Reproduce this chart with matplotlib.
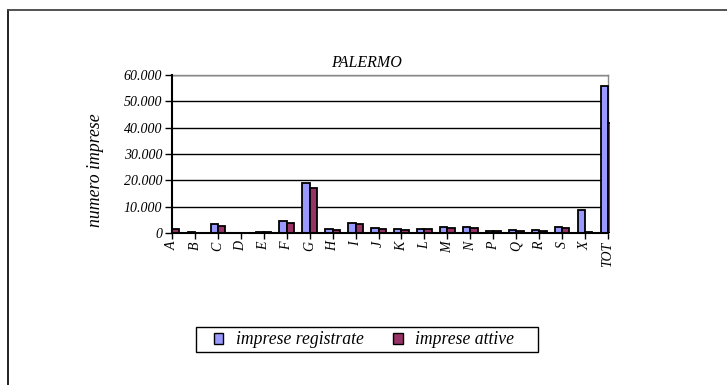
import matplotlib
matplotlib.use("Agg")
import matplotlib.pyplot as plt
from matplotlib.patches import Patch, Rectangle
from matplotlib.lines import Line2D
from matplotlib.transforms import Bbox, TransformedBbox
import numpy as np

categories = ["A", "B", "C", "D", "E", "F", "G", "H", "I", "J", "K", "L", "M",
              "N", "P", "Q", "R", "S", "X", "TOT"]
registrate = [1600, 200, 3300, 150, 250, 4550, 18860, 1500, 3800, 1770, 1400,
              1500, 2400, 2150, 630, 1000, 1000, 2150, 8730, 56000]
attive = [1500, 150, 2800, 100, 200, 3800, 16960, 1270, 3400, 1650, 1150,
          1400, 2000, 1800, 600, 900, 900, 1900, 250, 41900]
yticks = [0, 10000, 20000, 30000, 40000, 50000, 60000]
ytick_labels = ["0", "10.000", "20.000", "30.000", "40.000", "50.000", "60.000"]
title = "PALERMO"
ylabel = "numero imprese"
series_names = ["imprese registrate", "imprese attive"]

blue = "#9999FF"
dark = "#993366"
serif = ["Liberation Serif", "DejaVu Serif"]

W, H = 727, 385
fig = plt.figure(figsize=(W / 100, H / 100), dpi=100)

# outer chart border (top and left visible)
fig.add_artist(Line2D([8 / W, 8 / W], [0, 1 - 10 / H], transform=fig.transFigure,
                      color="#111111", lw=1.3))
fig.add_artist(Line2D([8 / W, 1], [1 - 10 / H, 1 - 10 / H], transform=fig.transFigure,
                      color="#444444", lw=1.3))

left, right, top, bottom = 172, 608, 75, 233
ax = fig.add_axes([left / W, 1 - bottom / H, (right - left) / W, (bottom - top) / H])

x = np.arange(len(categories))
bw = 0.32
b1 = ax.bar(x - bw / 2, registrate, width=bw, color=blue, edgecolor="black", linewidth=1.3, zorder=3)
b2 = ax.bar(x + bw / 2, attive, width=bw, color=dark, edgecolor="black", linewidth=1.3, zorder=3)
clip = TransformedBbox(Bbox([[0, 0], [1.004, 1.01]]), ax.transAxes)
for p in list(b1) + list(b2):
    p.set_clip_box(clip)

ax.set_xlim(0, len(categories) - 1)
ax.set_ylim(0, 60000)
ax.set_yticks(yticks)
ax.set_yticklabels(ytick_labels, fontfamily=serif, fontstyle="italic", fontsize=10)
ax.set_xticks(x)
ax.set_xticklabels(categories, rotation=90, fontfamily=serif, fontstyle="italic", fontsize=10)
ax.tick_params(axis="y", direction="out", length=5, width=1, pad=2)
ax.tick_params(axis="x", direction="out", length=4, width=1, pad=2)
ax.yaxis.grid(True, color="black", lw=1)
ax.set_axisbelow(True)
for s in ["left", "bottom"]:
    ax.spines[s].set_linewidth(1.5)
    ax.spines[s].set_zorder(5)
for s in ["top", "right"]:
    ax.spines[s].set_color("#888888")
    ax.spines[s].set_linewidth(1)
    ax.spines[s].set_zorder(1)

fig.text(366 / W, 1 - 63 / H, title, ha="center", va="center",
         fontfamily=serif, fontstyle="italic", fontsize=11.5)
fig.text(95 / W, 1 - 170 / H, ylabel, ha="center", va="center", rotation=90,
         fontfamily=serif, fontstyle="italic", fontsize=12.8)

# legend frame
fig.add_artist(Rectangle((196 / W, 1 - 352 / H), (538 - 196) / W, 25 / H,
                         transform=fig.transFigure, facecolor="white",
                         edgecolor="black", lw=1, zorder=1))
handles = [Patch(facecolor=blue, edgecolor="black", lw=1),
           Patch(facecolor=dark, edgecolor="black", lw=1)]
leg = fig.legend(handles, series_names, loc="center left", bbox_to_anchor=(210 / W, 1 - 340 / H),
                 ncol=2, frameon=False,
                 prop={"family": serif, "style": "italic", "size": 12.7},
                 handlelength=0.55, handleheight=0.55, handletextpad=0.7,
                 columnspacing=1.7, borderpad=0.2, borderaxespad=0)
leg.set_zorder(2)

fig.savefig("out.png", dpi=100)
